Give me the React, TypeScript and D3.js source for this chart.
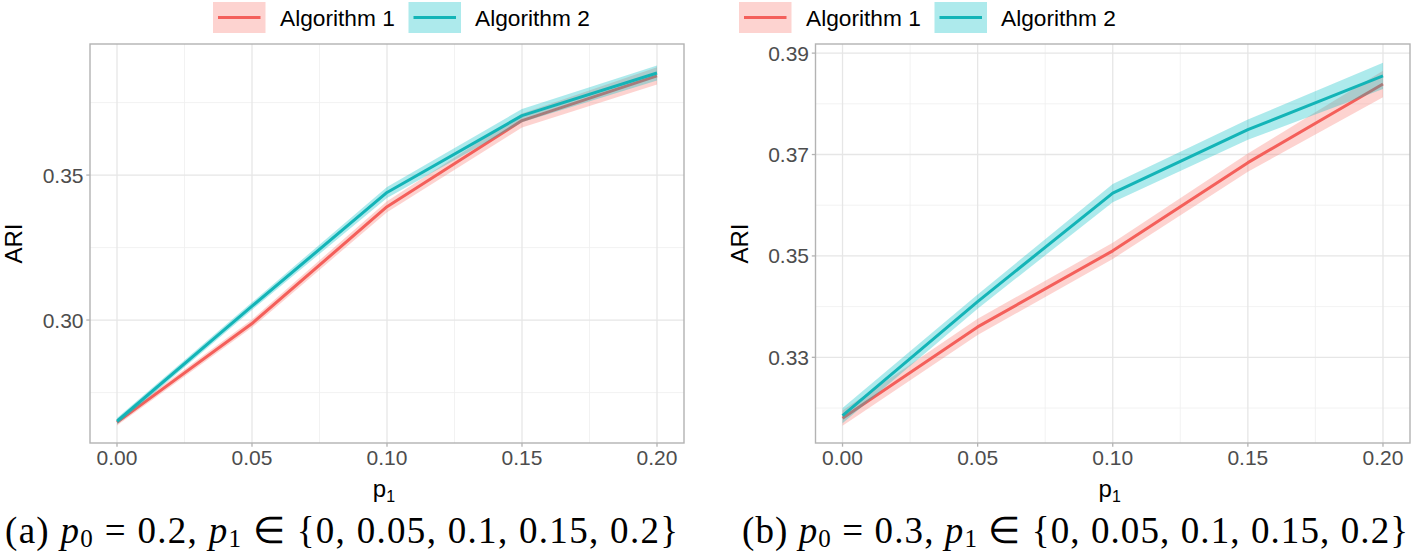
import React from "react";
import * as d3 from "d3";

// ---- data ----
const p1Values = [0, 0.05, 0.1, 0.15, 0.2];
const xTicks = [0, 0.05, 0.1, 0.15, 0.2];
const xMinor = [0.025, 0.075, 0.125, 0.175];
const seriesNames = ["Algorithm 1", "Algorithm 2"];

// panel (a): p0 = 0.2
const aAlg1 = [0.2647, 0.2988, 0.3391, 0.3688, 0.3842];
const aAlg1Err = [0.0011, 0.0014, 0.0019, 0.0024, 0.003];
const aAlg2 = [0.2651, 0.3048, 0.344, 0.3705, 0.3852];
const aAlg2Err = [0.0011, 0.0013, 0.0019, 0.0023, 0.0026];
const aYTicks = [0.3, 0.35];
const aYMinor = [0.275, 0.325, 0.375];
const aYTickLabels = ["0.30", "0.35"];

// panel (b): p0 = 0.3
const bAlg1 = [0.318, 0.336, 0.351, 0.3684, 0.3839];
const bAlg1Err = [0.0015, 0.0016, 0.0016, 0.0018, 0.0026];
const bAlg2 = [0.3185, 0.341, 0.3624, 0.3749, 0.3855];
const bAlg2Err = [0.0015, 0.0014, 0.0018, 0.002, 0.0026];
const bYTicks = [0.33, 0.35, 0.37, 0.39];
const bYMinor = [0.32, 0.34, 0.36, 0.38];
const bYTickLabels = ["0.33", "0.35", "0.37", "0.39"];

const fillColors = ["#F8766D", "#00BFC4"];
const lineColors = ["#F45F5A", "#13B4B7"];

const SANS = "'Liberation Sans', Arial, Helvetica, sans-serif";
const SERIF = "'Liberation Serif', 'Times New Roman', serif";

type PanelProps = {
  x0: number;
  x1: number;
  yDomain: [number, number];
  series: number[][];
  errs: number[][];
  yTicks: number[];
  yMinor: number[];
  yTickLabels: string[];
  legendX: number;
  captionX: number;
  captionLen: number;
  captionLabel: string;
  p0: string;
};

function Panel(props: PanelProps) {
  const { x0, x1, yDomain, series, errs, yTicks, yMinor, yTickLabels, legendX, captionX, captionLen, captionLabel, p0 } = props;
  const top = 44;
  const bottom = 443;
  const x = d3.scaleLinear().domain([-0.01, 0.21]).range([x0, x1]);
  const y = d3.scaleLinear().domain(yDomain).range([bottom, top]);

  const area = (vals: number[], e: number[]) =>
    d3
      .area<number>()
      .x((_, i) => x(p1Values[i]))
      .y0((v, i) => y(v - e[i]))
      .y1((v, i) => y(v + e[i]))(vals) || "";
  const line = (vals: number[]) =>
    d3
      .line<number>()
      .x((_, i) => x(p1Values[i]))
      .y((v) => y(v))(vals) || "";

  const cx = (x0 + x1) / 2;
  const cy = (top + bottom) / 2;

  // legend geometry
  const keyW = 52.5;
  const keyH = 31;
  const keyY = 2;
  const legendItems = [
    { kx: legendX, tx: legendX + 67 },
    { kx: legendX + 195.5, tx: legendX + 262 },
  ];

  return (
    <g>
      {/* legend */}
      {legendItems.map((it, i) => (
        <g key={"lg" + i}>
          <rect x={it.kx} y={keyY} width={keyW} height={keyH} fill={fillColors[i]} fillOpacity={0.32} />
          <line x1={it.kx + 5} x2={it.kx + keyW - 5} y1={keyY + keyH / 2} y2={keyY + keyH / 2} stroke={lineColors[i]} strokeWidth={3} />
          <text x={it.tx} y={keyY + keyH / 2 + 8.2} fontFamily={SANS} fontSize={22.7} fill="#000">
            {seriesNames[i]}
          </text>
        </g>
      ))}

      {/* grid */}
      {yMinor.map((v) => (
        <line key={"ym" + v} x1={x0} x2={x1} y1={y(v)} y2={y(v)} stroke="#EFEFEF" strokeWidth={0.8} />
      ))}
      {xMinor.map((v) => (
        <line key={"xm" + v} x1={x(v)} x2={x(v)} y1={top} y2={bottom} stroke="#EFEFEF" strokeWidth={0.8} />
      ))}
      {yTicks.map((v) => (
        <line key={"yg" + v} x1={x0} x2={x1} y1={y(v)} y2={y(v)} stroke="#E6E6E6" strokeWidth={1.3} />
      ))}
      {xTicks.map((v) => (
        <line key={"xg" + v} x1={x(v)} x2={x(v)} y1={top} y2={bottom} stroke="#E6E6E6" strokeWidth={1.3} />
      ))}

      {/* ribbons + lines */}
      {series.map((vals, i) => (
        <g key={"s" + i}>
          <path d={area(vals, errs[i])} fill={fillColors[i]} fillOpacity={0.32} stroke="none" />
          <path d={line(vals)} fill="none" stroke={lineColors[i]} strokeWidth={3} strokeLinejoin="round" />
        </g>
      ))}

      {/* panel border */}
      <rect x={x0} y={top} width={x1 - x0} height={bottom - top} fill="none" stroke="#B3B3B3" strokeWidth={1.4} />

      {/* y axis ticks */}
      {yTicks.map((v, i) => (
        <g key={"yt" + v}>
          <line x1={x0 - 3.7} x2={x0} y1={y(v)} y2={y(v)} stroke="#B3B3B3" strokeWidth={1.3} />
          <text x={x0 - 6.5} y={y(v) + 7.5} textAnchor="end" fontFamily={SANS} fontSize={21} fill="#4D4D4D">
            {yTickLabels[i]}
          </text>
        </g>
      ))}
      {/* x axis ticks */}
      {xTicks.map((v) => (
        <g key={"xt" + v}>
          <line x1={x(v)} x2={x(v)} y1={bottom} y2={bottom + 3.7} stroke="#B3B3B3" strokeWidth={1.3} />
          <text x={x(v)} y={bottom + 22} textAnchor="middle" fontFamily={SANS} fontSize={21} fill="#4D4D4D">
            {d3.format(".2f")(v)}
          </text>
        </g>
      ))}

      {/* axis titles */}
      <text
        transform={`translate(${x0 - 68},${cy}) rotate(-90)`}
        textAnchor="middle"
        fontFamily={SANS}
        fontSize={24}
        fill="#000"
      >
        ARI
      </text>
      <text x={cx - 3} y={497} textAnchor="middle" fontFamily={SANS} fontSize={24} fill="#000">
        p
        <tspan fontSize={16} dy={5}>
          1
        </tspan>
      </text>

      {/* caption */}
      <text x={captionX} y={543} fontFamily={SERIF} fontSize={37} fill="#000" textLength={captionLen} lengthAdjust="spacing">
        {captionLabel + " "}
        <tspan fontStyle="italic">p</tspan>
        <tspan fontSize={25} dy={4}>0</tspan>
        <tspan dy={-4}>{" = " + p0 + ", "}</tspan>
        <tspan fontStyle="italic">p</tspan>
        <tspan fontSize={25} dy={4}>1</tspan>
        <tspan dy={-4}>{" \u2208 {0, 0.05, 0.1, 0.15, 0.2}"}</tspan>
      </text>
    </g>
  );
}

export default function App() {
  return (
    <svg
      width={1415}
      height={554}
      viewBox="0 0 1415 554"
      style={{ position: "absolute", left: 0, top: 0, background: "#fff" }}
    >
      <rect x={0} y={0} width={1415} height={554} fill="#fff" />
      <Panel
        x0={90}
        x1={684}
        yDomain={[0.2576, 0.3952]}
        series={[aAlg1, aAlg2]}
        errs={[aAlg1Err, aAlg2Err]}
        yTicks={aYTicks}
        yMinor={aYMinor}
        yTickLabels={aYTickLabels}
        legendX={213}
        captionX={5}
        captionLen={673}
        captionLabel="(a)"
        p0="0.2"
      />
      <Panel
        x0={815.5}
        x1={1410}
        yDomain={[0.3131, 0.3918]}
        series={[bAlg1, bAlg2]}
        errs={[bAlg1Err, bAlg2Err]}
        yTicks={bYTicks}
        yMinor={bYMinor}
        yTickLabels={bYTickLabels}
        legendX={739}
        captionX={742}
        captionLen={666}
        captionLabel="(b)"
        p0="0.3"
      />
    </svg>
  );
}
